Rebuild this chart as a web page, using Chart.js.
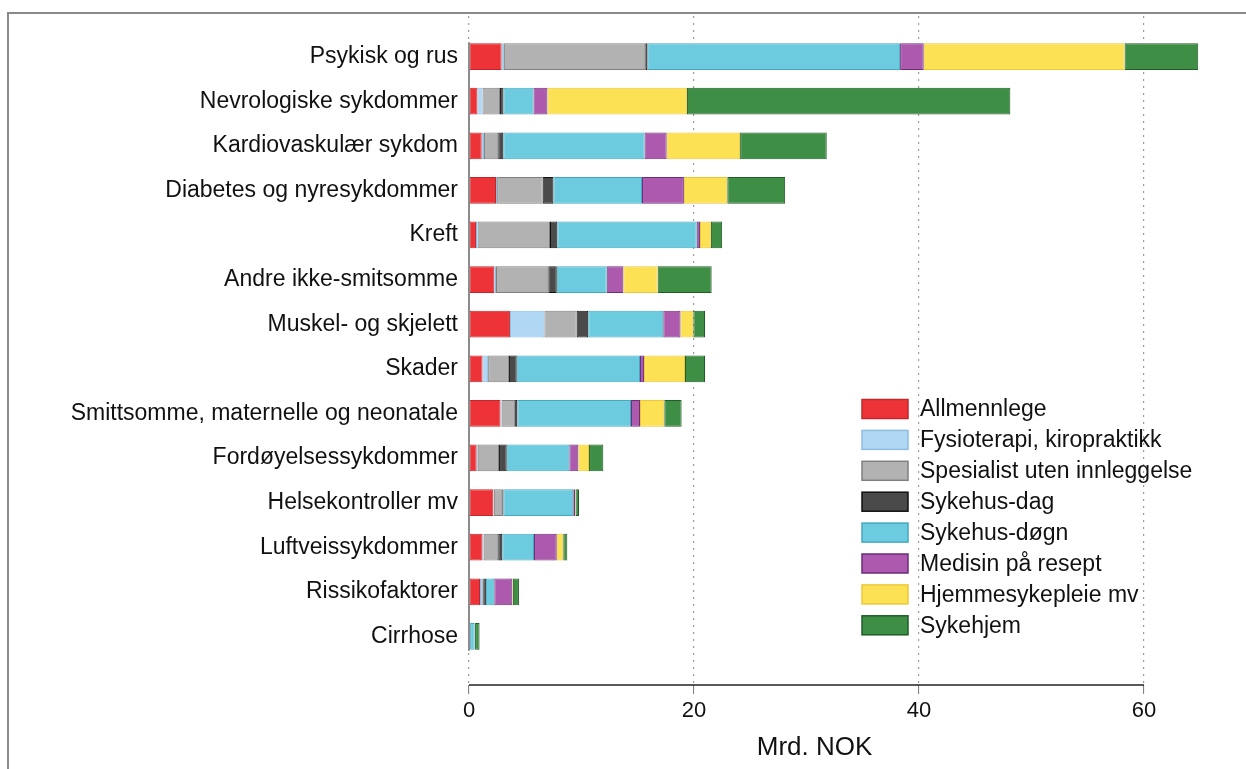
<!DOCTYPE html>
<html>
<head>
<meta charset="utf-8">
<script src="https://cdn.jsdelivr.net/npm/chart.js@4.4.1/dist/chart.umd.min.js"></script>
<style>
  html, body { margin: 0; padding: 0; background: #fff; }
  #wrap { width: 1246px; height: 769px; position: relative; }
</style>
</head>
<body>
<div id="wrap"><canvas id="chart"></canvas></div>
<script>
const categories = [
  "Psykisk og rus",
  "Nevrologiske sykdommer",
  "Kardiovaskulær sykdom",
  "Diabetes og nyresykdommer",
  "Kreft",
  "Andre ikke-smitsomme",
  "Muskel- og skjelett",
  "Skader",
  "Smittsomme, maternelle og neonatale",
  "Fordøyelsessykdommer",
  "Helsekontroller mv",
  "Luftveissykdommer",
  "Rissikofaktorer",
  "Cirrhose",
];

// Mrd. NOK per kategori
const allmennlege  = [2.9, 0.75, 1.13, 2.4, 0.62, 2.25, 3.64, 1.2, 2.8, 0.68, 2.16, 1.2, 0.98, 0.03];
const fysioterapi  = [0.2, 0.45, 0.2, 0.1, 0.15, 0.15, 3.06, 0.5, 0.1, 0.1, 0.05, 0.1, 0.2, 0.0];
const spesialist   = [12.57, 1.56, 1.27, 4.05, 6.43, 4.65, 2.87, 1.85, 1.2, 1.89, 0.75, 1.3, 0.17, 0.03];
const sykehusDag   = [0.2, 0.3, 0.45, 0.95, 0.65, 0.75, 1.03, 0.69, 0.2, 0.68, 0.1, 0.36, 0.15, 0.04];
const sykehusDogn  = [22.45, 2.67, 12.55, 7.88, 12.39, 4.44, 6.67, 10.96, 10.1, 5.57, 6.21, 2.82, 0.75, 0.4];
const medisin      = [2.1, 1.24, 1.97, 3.72, 0.29, 1.48, 1.53, 0.36, 0.8, 0.8, 0.15, 2.02, 1.6, 0.02];
const hjemmesykepl = [17.85, 12.4, 6.53, 3.86, 0.97, 3.05, 1.14, 3.64, 2.16, 0.95, 0.05, 0.58, 0.05, 0.02];
const sykehjem     = [6.55, 28.75, 7.7, 5.14, 1.0, 4.8, 1.04, 1.78, 1.54, 1.27, 0.31, 0.36, 0.54, 0.4];

const xTicks = [0, 20, 40, 60];
const xTitle = "Mrd. NOK";

const series = [
  { label: "Allmennlege", data: allmennlege, bg: "#EE3338", border: "#C0282C" },
  { label: "Fysioterapi, kiropraktikk", data: fysioterapi, bg: "#B0D8F4", border: "#8DBDE0" },
  { label: "Spesialist uten innleggelse", data: spesialist, bg: "#B2B2B2", border: "#7F7F7F" },
  { label: "Sykehus-dag", data: sykehusDag, bg: "#4A4A4A", border: "#111111" },
  { label: "Sykehus-døgn", data: sykehusDogn, bg: "#6DCBDF", border: "#45A9BE" },
  { label: "Medisin på resept", data: medisin, bg: "#AC59AE", border: "#6A2E7A" },
  { label: "Hjemmesykepleie mv", data: hjemmesykepl, bg: "#FDE154", border: "#EAC83A" },
  { label: "Sykehjem", data: sykehjem, bg: "#3F8E45", border: "#205E28" },
];

const FONT = "'Liberation Sans', Arial, sans-serif";

// ramme, akselinjer, aksetittel og legende
const extras = {
  id: "extras",
  beforeDraw(chart) {
    const ctx = chart.ctx;
    ctx.save();
    ctx.strokeStyle = "#8a8a8a";
    ctx.lineWidth = 2;
    ctx.strokeRect(8, 13, 1300, 800);
    ctx.restore();
  },
  afterDraw(chart) {
    const ctx = chart.ctx;
    const x = chart.scales.x, y = chart.scales.y;
    const x0 = x.getPixelForValue(0), x60 = x.getPixelForValue(60);
    ctx.save();
    // y-akse
    ctx.strokeStyle = "#8c8c8c";
    ctx.lineWidth = 2;
    ctx.beginPath();
    ctx.moveTo(x0, y.getPixelForValue(-0.32));
    ctx.lineTo(x0, y.getPixelForValue(categories.length - 1 + 0.32));
    ctx.stroke();
    // x-akse
    ctx.strokeStyle = "#222";
    ctx.lineWidth = 1.5;
    ctx.beginPath();
    ctx.moveTo(x0, chart.chartArea.bottom);
    ctx.lineTo(x60, chart.chartArea.bottom);
    ctx.stroke();
    // aksetittel
    ctx.fillStyle = "#111";
    ctx.font = "26px " + FONT;
    ctx.textAlign = "center";
    ctx.textBaseline = "middle";
    ctx.fillText(xTitle, (x0 + x60) / 2 + 8, 748);
    // legende
    ctx.font = "23px " + FONT;
    ctx.textAlign = "left";
    chart.data.datasets.forEach((ds, i) => {
      const cy = 409 + i * 30.9;
      ctx.fillStyle = ds.backgroundColor;
      ctx.fillRect(862, cy - 9.5, 46, 19);
      ctx.strokeStyle = ds.borderColor;
      ctx.lineWidth = 1.5;
      ctx.strokeRect(862, cy - 9.5, 46, 19);
      ctx.fillStyle = "#111";
      ctx.fillText(ds.label, 920, cy + 1);
    });
    ctx.restore();
  },
};

new Chart(document.getElementById("chart"), {
  type: "bar",
  data: {
    datasets: series.map(s => ({
      label: s.label,
      data: s.data.map((v, i) => ({ x: v, y: i })),
      backgroundColor: s.bg,
      borderColor: s.border,
      borderWidth: 1,
      borderSkipped: false,
      barPercentage: 0.6,
      categoryPercentage: 1,
    })),
  },
  options: {
    indexAxis: "y",
    responsive: true,
    maintainAspectRatio: false,
    animation: false,
    layout: { padding: { top: 16, right: 12, left: 0, bottom: 0 } },
    plugins: {
      legend: { display: false },
      tooltip: { enabled: false },
    },
    scales: {
      x: {
        type: "linear",
        stacked: true,
        min: 0,
        max: 68,
        afterBuildTicks: (scale) => { scale.ticks = xTicks.map(v => ({ value: v })); },
        afterFit: (scale) => { scale.height = 84; },
        grid: {
          color: "#9a9a9a",
          lineWidth: 1.2,
          drawTicks: true,
          tickLength: 9,
          tickColor: "#777",
          tickWidth: 1,
          tickBorderDash: [],
        },
        border: { display: false, dash: [2, 5] },
        ticks: {
          color: "#111",
          padding: 4,
          font: { family: FONT, size: 22 },
        },
      },
      y: {
        type: "linear",
        stacked: true,
        reverse: true,
        offset: false,
        min: -0.91,
        max: categories.length + 0.09,
        afterBuildTicks: (scale) => { scale.ticks = categories.map((c, i) => ({ value: i })); },
        afterFit: (scale) => { scale.width = 469; },
        grid: { display: false, offset: false, drawTicks: true, tickLength: 11 },
        border: { display: false },
        ticks: {
          color: "#111",
          padding: 0,
          autoSkip: false,
          font: { family: FONT, size: 23 },
          callback: (v) => categories[v] ?? "",
        },
      },
    },
  },
  plugins: [extras],
});
</script>
</body>
</html>
